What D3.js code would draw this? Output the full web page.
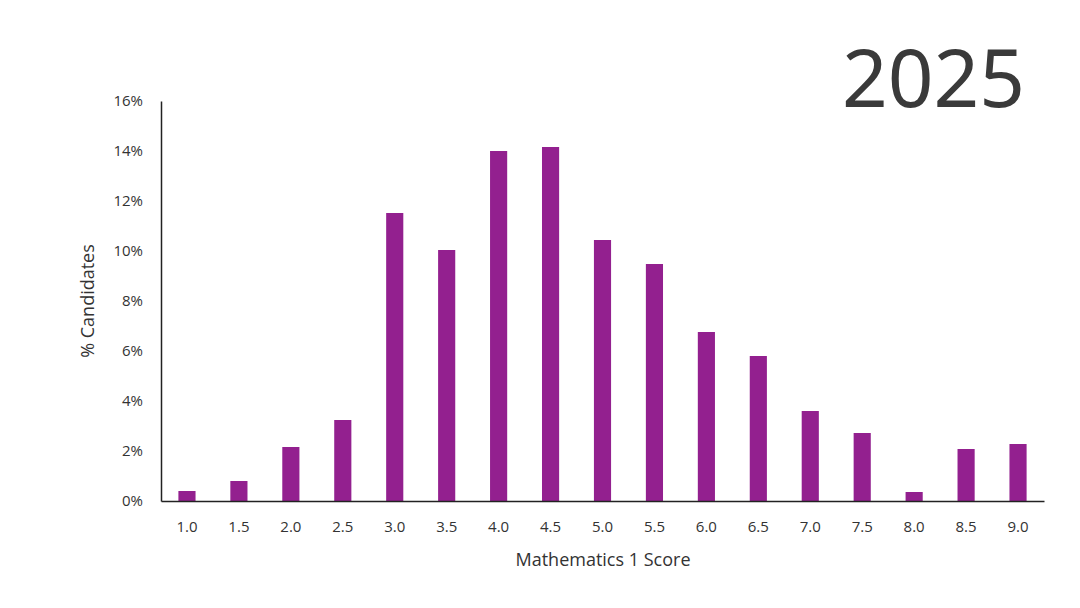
<!DOCTYPE html>
<html><head><meta charset="utf-8">
<script src="https://cdn.jsdelivr.net/npm/d3@7"></script>
<style>body{margin:0;background:#fff}</style>
</head><body>
<svg id="chart" width="1080" height="608"></svg>
<script>
// valeurs
const scores = ["1.0","1.5","2.0","2.5","3.0","3.5","4.0","4.5","5.0","5.5","6.0","6.5","7.0","7.5","8.0","8.5","9.0"]
const pourcentages = [0.4,0.8,2.16,3.24,11.52,10.04,14.0,14.16,10.44,9.48,6.76,5.8,3.6,2.72,0.36,2.08,2.28]
const yTicks = [0,2,4,6,8,10,12,14,16]

const svg = d3.select('#chart')
const marge = {left:161, right:1044, top:101, bottom:501}

const x = d3.scaleBand().domain(scores).range([marge.left, marge.right]).paddingInner(0.67).paddingOuter(0.335)
const y = d3.scaleLinear().domain([0,16]).range([marge.bottom, marge.top])

svg.selectAll('rect.barre')
    .data(pourcentages)
    .enter().append('rect')
    .attr('class','barre')
    .attr('x', (d,i) => x(scores[i]))
    .attr('width', x.bandwidth())
    .attr('y', d => y(d))
    .attr('height', d => y(0) - y(d))
    .attr('fill', '#93208f')

//axe Y
const axeY = svg.append('g')
    .attr('transform', `translate(${marge.left},0)`)
    .call(d3.axisLeft(y).tickValues(yTicks).tickFormat(d => d + '%').tickSize(0).tickPadding(18))
axeY.select('.domain').attr('stroke','#222').attr('stroke-width',1.5)
axeY.selectAll('text').attr('font-family','Open Sans, sans-serif').attr('font-size',15).attr('fill','#333')

//axe X
const axeX = svg.append('g')
    .attr('transform', `translate(0,${marge.bottom})`)
    .call(d3.axisBottom(x).tickSize(0).tickPadding(20))
axeX.select('.domain').attr('stroke','#222').attr('stroke-width',1.5)
axeX.selectAll('text').attr('font-family','Open Sans, sans-serif').attr('font-size',15).attr('fill','#333')

svg.append('text')
    .attr('x', 603).attr('y', 566)
    .attr('text-anchor','middle')
    .attr('font-family','Open Sans, sans-serif').attr('font-size',18).attr('fill','#333')
    .text('Mathematics 1 Score')

svg.append('text')
    .attr('transform','translate(94,301) rotate(-90)')
    .attr('text-anchor','middle')
    .attr('font-family','Open Sans, sans-serif').attr('font-size',18).attr('fill','#333')
    .text('% Candidates')

svg.append('text')
    .attr('x', 1025).attr('y', 107)
    .attr('text-anchor','end')
    .attr('font-family','Noto Sans, sans-serif').attr('font-size',80).attr('fill','#3a3a3a')
    .text('2025')
</script>
</body></html>
